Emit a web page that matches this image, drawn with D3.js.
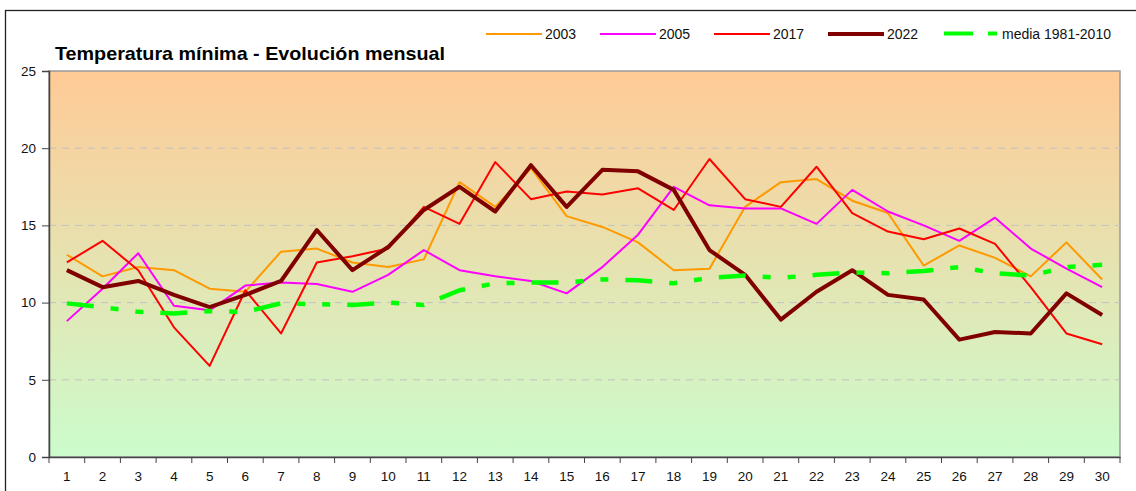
<!DOCTYPE html>
<html>
<head>
<meta charset="utf-8">
<script src="https://cdn.jsdelivr.net/npm/d3@7"></script>
<style>
  html, body { margin: 0; padding: 0; background: #fff; }
  svg { display: block; font-family: "Liberation Sans", Arial, sans-serif; }
</style>
</head>
<body>
<svg id="chart" width="1136" height="491"></svg>
<script>
const days = d3.range(1, 31);
const yTicks = [0, 5, 10, 15, 20, 25];
const seriesNames = ["2003", "2005", "2017", "2022", "media 1981-2010"];
const s2003 = [13.1, 11.7, 12.3, 12.1, 10.9, 10.7, 13.3, 13.5, 12.6, 12.3, 12.8, 17.8, 16.2, 18.7, 15.6, 14.9, 13.9, 12.1, 12.2, 16.2, 17.8, 18.0, 16.6, 15.8, 12.4, 13.7, 12.9, 11.7, 13.9, 11.5];
const s2005 = [8.8, 10.9, 13.2, 9.8, 9.5, 11.1, 11.3, 11.2, 10.7, 11.8, 13.4, 12.1, 11.7, 11.4, 10.6, 12.3, 14.4, 17.5, 16.3, 16.1, 16.1, 15.1, 17.3, 15.9, 15.0, 14.0, 15.5, 13.5, 12.2, 11.0];
const s2017 = [12.6, 14.0, 12.1, 8.4, 5.9, 10.8, 8.0, 12.6, 13.0, 13.5, 16.2, 15.1, 19.1, 16.7, 17.2, 17.0, 17.4, 16.0, 19.3, 16.7, 16.2, 18.8, 15.8, 14.6, 14.1, 14.8, 13.8, 11.0, 8.0, 7.3];
const s2022 = [12.1, 11.0, 11.4, 10.5, 9.7, 10.5, 11.4, 14.7, 12.1, 13.6, 16.0, 17.5, 15.9, 18.9, 16.2, 18.6, 18.5, 17.3, 13.4, 11.8, 8.9, 10.7, 12.1, 10.5, 10.2, 7.6, 8.1, 8.0, 10.6, 9.2];
const sMedia = [9.95, 9.7, 9.4, 9.3, 9.45, 9.4, 9.95, 9.9, 9.85, 10.0, 9.85, 10.8, 11.25, 11.3, 11.3, 11.5, 11.45, 11.25, 11.6, 11.75, 11.6, 11.8, 11.95, 11.9, 12.05, 12.3, 11.9, 11.75, 12.3, 12.45];

const seriesValues = [s2003, s2005, s2017, s2022, sMedia];
const seriesStyle = [
  { color: "#FF9900", width: 2, dash: null },
  { color: "#FF00FF", width: 2, dash: null },
  { color: "#FF0000", width: 2, dash: null },
  { color: "#800000", width: 4, dash: null },
  { color: "#00FF00", width: 4.5, dash: "27,17,8,17,8,17" }
];

const svg = d3.select("#chart");
const L = 49, R = 1120, T = 71, B = 457;

// outer frame
svg.append("rect").attr("x", 5.5).attr("y", 10.5).attr("width", 1140).attr("height", 500)
  .attr("fill", "none").attr("stroke", "#222").attr("stroke-width", 1.3);

const x = d3.scaleBand().domain(days).range([L, R]).padding(0);
const y = d3.scaleLinear().domain([0, 25]).range([B, T]);

// gradient background
const defs = svg.append("defs");
const grad = defs.append("linearGradient").attr("id", "bg").attr("x1", 0).attr("y1", 0).attr("x2", 0).attr("y2", 1);
grad.append("stop").attr("offset", "0%").attr("stop-color", "#FFCA96");
grad.append("stop").attr("offset", "100%").attr("stop-color", "#CCFCCC");

svg.append("rect").attr("x", L).attr("y", T).attr("width", R - L).attr("height", B - T)
  .attr("fill", "url(#bg)").attr("stroke", "#9a9a9a").attr("stroke-width", 1.5);

// gridlines
svg.append("g").selectAll("line").data(yTicks.filter(d => d > 0 && d < 25)).join("line")
  .attr("x1", L).attr("x2", R).attr("y1", d => y(d)).attr("y2", d => y(d))
  .attr("stroke", "#c2c2c2").attr("stroke-width", 1).attr("stroke-dasharray", "7,6");

// y axis
const yAxis = d3.axisLeft(y).tickValues(yTicks).tickSize(7).tickPadding(6);
const gy = svg.append("g").attr("transform", `translate(${L},0)`).call(yAxis);
gy.select(".domain").attr("stroke", "#444").attr("stroke-width", 1.5);
gy.selectAll(".tick line").attr("stroke", "#444");
gy.selectAll(".tick text").attr("font-size", 13.5).attr("fill", "#111").attr("font-family", "Liberation Sans, Arial");

// x axis
const xAxis = d3.axisBottom(x).tickSize(0).tickPadding(14);
const gx = svg.append("g").attr("transform", `translate(0,${B})`).call(xAxis);
gx.select(".domain").attr("stroke", "#444").attr("stroke-width", 1.5);
gx.selectAll(".tick text").attr("font-size", 13.5).attr("fill", "#111").attr("font-family", "Liberation Sans, Arial");
gx.append("g").selectAll("line").data(days).join("line")
  .attr("x1", d => x(d) + x.bandwidth()).attr("x2", d => x(d) + x.bandwidth())
  .attr("y1", 0).attr("y2", 6).attr("stroke", "#444").attr("stroke-width", 1);
gx.append("line").attr("x1", L).attr("x2", L).attr("y1", 0).attr("y2", 6).attr("stroke", "#444");

// lines
const line = d3.line().x((d, i) => x(days[i]) + x.bandwidth() / 2).y(d => y(d));
seriesValues.forEach((vals, i) => {
  const st = seriesStyle[i];
  svg.append("path").datum(vals).attr("d", line)
    .attr("fill", "none").attr("stroke", st.color).attr("stroke-width", st.width)
    .attr("stroke-linejoin", "round")
    .attr("stroke-dasharray", st.dash);
});

// title
svg.append("text").attr("x", 55).attr("y", 60).attr("font-size", 19).attr("font-weight", "bold")
  .attr("textLength", 390).attr("lengthAdjust", "spacingAndGlyphs")
  .attr("fill", "#000").text("Temperatura mínima - Evolución mensual");

// legend
const legX = [486, 600, 714, 828, 944];
const lg = svg.append("g");
seriesNames.forEach((name, i) => {
  const st = seriesStyle[i];
  const gx0 = legX[i];
  if (i < 4) {
    lg.append("line").attr("x1", gx0).attr("x2", gx0 + 56).attr("y1", 34).attr("y2", 34)
      .attr("stroke", st.color).attr("stroke-width", st.width);
    lg.append("text").attr("x", gx0 + 59).attr("y", 39).attr("font-size", 14).attr("fill", "#111").text(name);
  } else {
    lg.append("line").attr("x1", gx0).attr("x2", gx0 + 29).attr("y1", 33.5).attr("y2", 33.5)
      .attr("stroke", st.color).attr("stroke-width", 4);
    lg.append("line").attr("x1", gx0 + 44).attr("x2", gx0 + 53).attr("y1", 33.5).attr("y2", 33.5)
      .attr("stroke", st.color).attr("stroke-width", 4);
    lg.append("text").attr("x", gx0 + 58).attr("y", 39).attr("font-size", 14).attr("fill", "#111").text(name);
  }
});
</script>
</body>
</html>
